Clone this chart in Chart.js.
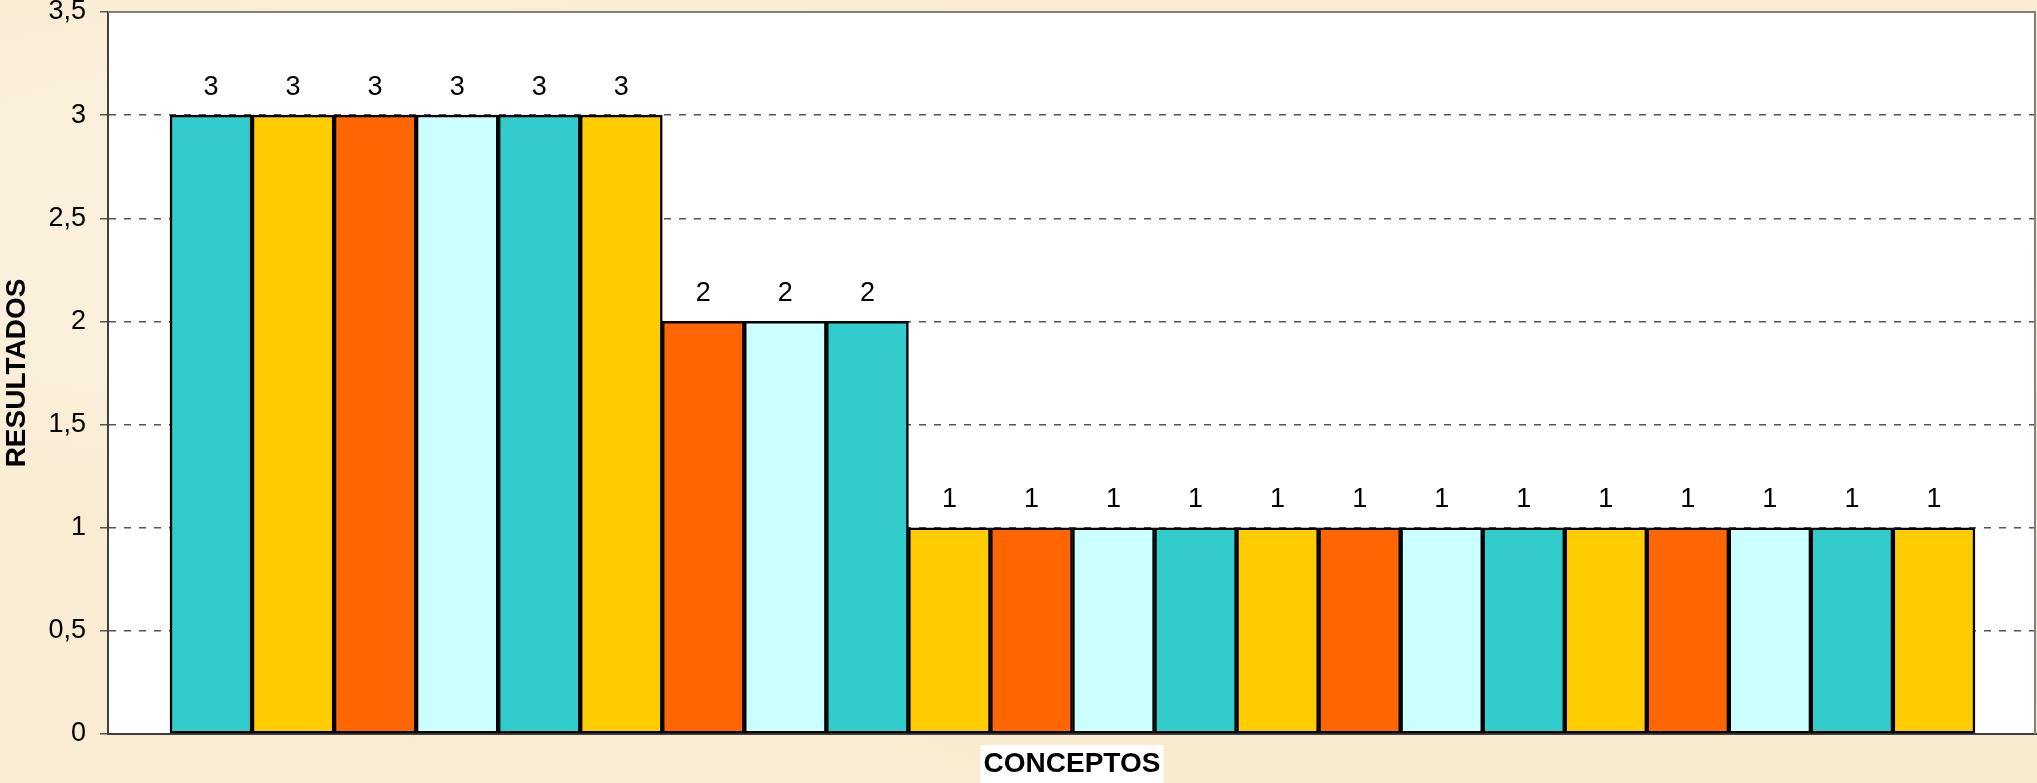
<!DOCTYPE html>
<html>
<head>
<meta charset="utf-8">
<script src="https://cdn.jsdelivr.net/npm/chart.js@4/dist/chart.umd.min.js"></script>
<style>
  html, body { margin: 0; padding: 0; }
  body {
    width: 2037px; height: 783px; overflow: hidden;
    background-color: #f9ecd2;
    background-image:
      radial-gradient(ellipse at 20% 30%, rgba(255,255,255,0.35), rgba(255,255,255,0) 40%),
      radial-gradient(ellipse at 80% 70%, rgba(240,220,180,0.25), rgba(255,255,255,0) 45%);
  }
  #wrap { position: absolute; left: 0; top: 0; width: 2037px; height: 783px; }
</style>
</head>
<body>
<div id="wrap"><canvas id="c" width="2037" height="783"></canvas></div>
<script>
// ---- data ----
const categories = ['1','2','3','4','5','6','7','8','9','10','11','12','13','14','15','16','17','18','19','20','21','22'];
const values = [3, 3, 3, 3, 3, 3, 2, 2, 2, 1, 1, 1, 1, 1, 1, 1, 1, 1, 1, 1, 1, 1];
const barColors = ['#33CCCC', '#FFCC00', '#FF6600', '#CCFFFF',
                   '#33CCCC', '#FFCC00', '#FF6600', '#CCFFFF',
                   '#33CCCC', '#FFCC00', '#FF6600', '#CCFFFF',
                   '#33CCCC', '#FFCC00', '#FF6600', '#CCFFFF',
                   '#33CCCC', '#FFCC00', '#FF6600', '#CCFFFF',
                   '#33CCCC', '#FFCC00'];
const yTickValues = [0, 0.5, 1, 1.5, 2, 2.5, 3, 3.5];
const yTickLabels = ['0', '0,5', '1', '1,5', '2', '2,5', '3', '3,5'];
const yTitle = 'RESULTADOS';
const xTitle = 'CONCEPTOS';

const FONT = "'Liberation Sans', Arial, sans-serif";

const plotBg = {
  id: 'plotBg',
  beforeDraw(chart) {
    const {ctx, chartArea: a} = chart;
    ctx.save();
    ctx.fillStyle = '#ffffff';
    ctx.fillRect(a.left, a.top, a.right - a.left, a.bottom - a.top);
    // white box behind x-axis title
    ctx.font = 'bold 28px ' + FONT;
    const w = ctx.measureText(xTitle).width;
    const cx = (a.left + a.right) / 2;
    ctx.fillRect(cx - w / 2 - 3, a.bottom + 11, w + 6, chart.height - a.bottom - 11);
    ctx.restore();
  },
  afterDraw(chart) {
    const {ctx, chartArea: a} = chart;
    ctx.save();
    ctx.strokeStyle = '#808080';
    ctx.lineWidth = 2;
    ctx.beginPath();
    ctx.moveTo(a.left, a.top);
    ctx.lineTo(a.right - 1, a.top);
    ctx.lineTo(a.right - 1, a.bottom);
    ctx.stroke();
    ctx.restore();
  }
};

const valueLabels = {
  id: 'valueLabels',
  afterDatasetsDraw(chart) {
    const {ctx} = chart;
    const meta = chart.getDatasetMeta(0);
    ctx.save();
    ctx.font = '27px ' + FONT;
    ctx.fillStyle = '#000';
    ctx.textAlign = 'center';
    ctx.textBaseline = 'middle';
    meta.data.forEach((bar, i) => {
      ctx.fillText(String(values[i]), bar.x, bar.y - 28);
    });
    ctx.restore();
  }
};

new Chart(document.getElementById('c'), {
  type: 'bar',
  data: {
    datasets: [{
      data: categories.map((c, i) => ({x: i, y: values[i]})),
      backgroundColor: barColors,
      borderColor: '#000000',
      borderWidth: 2.5,
      borderSkipped: false,
      barPercentage: 1,
      categoryPercentage: 1
    }]
  },
  options: {
    responsive: false,
    animation: false,
    layout: { padding: { top: 12, right: 1, left: 0, bottom: 0 } },
    plugins: { legend: { display: false }, tooltip: { enabled: false } },
    scales: {
      x: {
        type: 'linear',
        min: -1.256,
        max: 22.244,
        offset: false,
        ticks: { display: false },
        grid: { display: false, drawTicks: false },
        border: { display: true, color: '#404040', width: 2 },
        title: {
          display: true, text: xTitle, color: '#000',
          font: { family: FONT, size: 28, weight: 'bold' },
          padding: { top: 0, bottom: 2 }
        },
        afterFit(s) { s.height = 49; s.paddingLeft = 0; s.paddingRight = 0; }
      },
      y: {
        min: 0,
        max: 3.5,
        afterBuildTicks(s) { s.ticks = yTickValues.map(v => ({value: v})); },
        ticks: {
          color: '#000',
          font: { family: FONT, size: 27 },
          padding: 14,
          callback(v) { const i = yTickValues.indexOf(v); return i >= 0 ? yTickLabels[i] : ''; }
        },
        grid: {
          color: ctx => (ctx.tick && ctx.tick.value > 0 && ctx.tick.value < 3.5) ? '#555555' : 'rgba(0,0,0,0)',
          lineWidth: 1.5,
          drawTicks: true,
          tickLength: 8,
          tickColor: '#555555',
          tickWidth: 1.5
        },
        border: { display: true, color: '#404040', width: 2, dash: [7, 8] },
        title: {
          display: true, text: yTitle, color: '#000',
          font: { family: FONT, size: 28, weight: 'bold' },
          padding: { top: 0, bottom: 0 }
        },
        afterFit(s) { s.width = 108; s.paddingTop = 0; s.paddingBottom = 0; }
      }
    }
  },
  plugins: [plotBg, valueLabels]
});
</script>
</body>
</html>
